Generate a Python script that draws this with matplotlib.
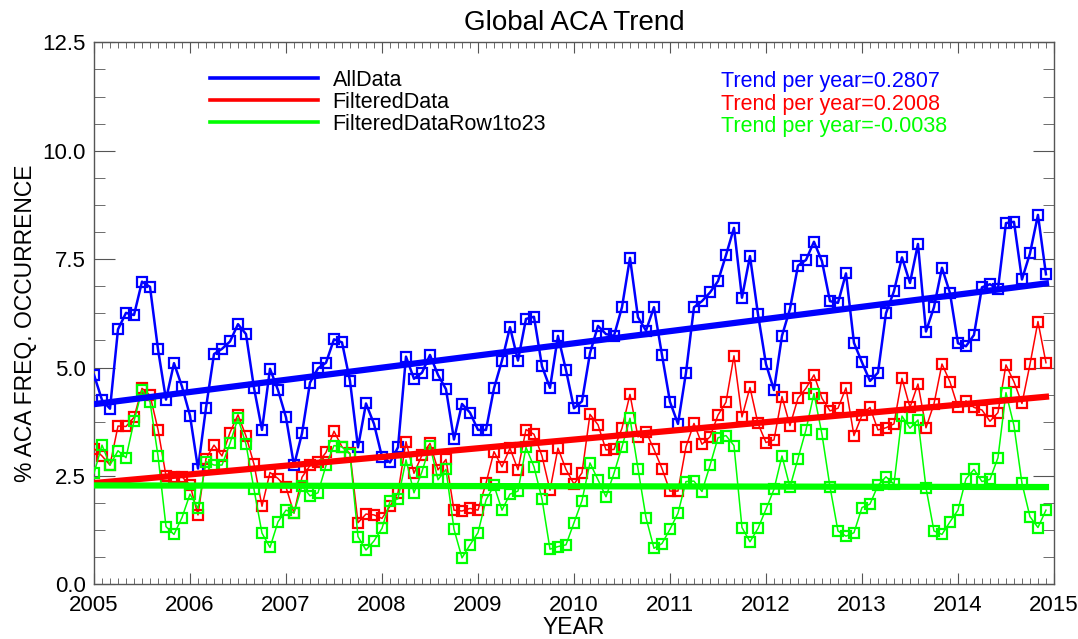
import numpy as np
import matplotlib
matplotlib.use('Agg')
import matplotlib.pyplot as plt
from matplotlib.ticker import MultipleLocator, FormatStrFormatter

plt.rcParams['font.family'] = ['Liberation Sans', 'DejaVu Sans']

# Monthly values, Jan 2005 .. Dec 2014
all_data = [
    4.83, 4.25, 4.05, 5.88, 6.26, 6.21, 6.98, 6.86, 5.42, 4.26, 5.10, 4.56,
    3.89, 2.67, 4.07, 5.31, 5.43, 5.60, 6.00, 5.77, 4.53, 3.56, 4.97, 4.48,
    3.85, 2.74, 3.48, 4.65, 4.98, 5.11, 5.65, 5.58, 4.69, 3.16, 4.17, 3.70,
    2.94, 2.81, 3.16, 5.25, 4.74, 4.88, 5.29, 4.83, 4.50, 3.34, 4.16, 3.96,
    3.56, 3.56, 4.52, 5.16, 5.93, 5.16, 6.12, 6.17, 5.03, 4.53, 5.73, 4.94,
    4.06, 4.22, 5.33, 5.96, 5.77, 5.73, 6.39, 7.53, 6.16, 5.85, 6.39, 5.29,
    4.21, 3.70, 4.88, 6.39, 6.53, 6.73, 6.99, 7.59, 8.22, 6.61, 7.57, 6.23,
    5.08, 4.48, 5.73, 6.35, 7.35, 7.48, 7.90, 7.45, 6.53, 6.49, 7.17, 5.57,
    5.12, 4.69, 4.88, 6.25, 6.76, 7.54, 6.95, 7.85, 5.83, 6.39, 7.30, 6.72,
    5.56, 5.49, 5.75, 6.85, 6.92, 6.81, 8.33, 8.36, 7.03, 7.63, 8.52, 7.15,
]
filtered_data = [
    3.13, 2.96, 2.75, 3.65, 3.64, 3.85, 4.52, 4.36, 3.57, 2.50, 2.48, 2.48,
    2.29, 1.60, 2.90, 3.21, 2.96, 3.50, 3.91, 3.42, 2.77, 1.80, 2.58, 2.44,
    2.24, 1.64, 2.47, 2.74, 2.81, 3.04, 3.53, 3.17, 3.02, 1.42, 1.62, 1.60,
    1.52, 1.80, 2.11, 3.29, 2.56, 2.98, 3.25, 2.64, 2.88, 1.71, 1.69, 1.75,
    1.71, 2.33, 3.06, 2.71, 3.14, 2.64, 3.57, 3.46, 2.96, 2.17, 3.14, 2.65,
    2.31, 2.57, 3.92, 3.68, 3.10, 3.11, 3.60, 4.38, 3.40, 3.52, 3.11, 2.67,
    2.15, 2.15, 3.17, 3.71, 3.23, 3.40, 3.90, 4.20, 5.27, 3.86, 4.54, 3.71,
    3.27, 3.33, 4.33, 3.66, 4.29, 4.52, 4.83, 4.29, 4.00, 4.06, 4.53, 3.43,
    3.90, 4.08, 3.56, 3.61, 3.70, 4.75, 4.08, 4.62, 3.61, 4.16, 5.08, 4.67,
    4.08, 4.23, 4.08, 4.02, 3.76, 3.96, 5.06, 4.67, 4.17, 5.07, 6.06, 5.11,
]
filtered_row1to23 = [
    2.56, 3.21, 2.75, 3.08, 2.92, 3.76, 4.48, 4.21, 2.96, 1.33, 1.15, 1.54,
    2.08, 1.75, 2.83, 2.75, 2.75, 3.25, 3.83, 3.23, 2.19, 1.18, 0.85, 1.44,
    1.71, 1.65, 2.27, 2.04, 2.11, 2.74, 3.20, 3.17, 3.00, 1.10, 0.79, 1.00,
    1.29, 1.91, 1.97, 2.87, 2.11, 2.60, 3.20, 2.41, 2.65, 1.27, 0.61, 0.91,
    1.19, 1.94, 2.28, 1.71, 2.08, 2.15, 3.16, 2.71, 1.97, 0.81, 0.87, 0.91,
    1.42, 1.93, 2.80, 2.41, 2.02, 2.56, 3.17, 3.83, 2.67, 1.54, 0.83, 0.94,
    1.27, 1.64, 2.37, 2.38, 2.14, 2.74, 3.38, 3.43, 3.20, 1.31, 0.98, 1.29,
    1.73, 2.19, 2.96, 2.24, 2.90, 3.56, 4.40, 3.46, 2.25, 1.23, 1.11, 1.19,
    1.77, 1.85, 2.28, 2.48, 2.31, 3.88, 3.60, 3.79, 2.23, 1.23, 1.15, 1.44,
    1.71, 2.43, 2.65, 2.37, 2.42, 2.92, 4.42, 3.66, 2.33, 1.56, 1.31, 1.71,
]
series_names = ['AllData', 'FilteredData', 'FilteredDataRow1to23']
trend_slopes = [0.2807, 0.2008, -0.0038]
colors = ['#0000ff', '#ff0000', '#00ff00']

start_year = 2005
years = start_year + np.arange(len(all_data)) / 12.0

fig = plt.figure(figsize=(10.78, 6.39), dpi=100)
ax = fig.add_axes([0.0872, 0.0856, 0.8905, 0.8482])

line_widths = [1.8, 1.1, 1.1]
for vals, c, lw, slope in zip([all_data, filtered_data, filtered_row1to23],
                              colors, line_widths, trend_slopes):
    vals = np.asarray(vals)
    ax.plot(years, vals, color=c, lw=lw, marker='s', ms=7, mfc='none',
            mec=c, mew=1.6, zorder=3)
    # trend line through the mean with the stated slope
    icpt = vals.mean() - slope * years.mean()
    ax.plot(years, slope * years + icpt, color=c, lw=4.5, zorder=4)

# legend lines (thinner than the trend lines)
handles = [plt.Line2D([], [], color=c, lw=2.6) for c in colors]
ax.legend(handles, series_names, loc='upper left',
          bbox_to_anchor=(0.1208, 0.949), frameon=False, fontsize=15.5,
          handlelength=5.0, handletextpad=0.7, labelspacing=0.04,
          borderpad=0, borderaxespad=0)
for k, (s, c) in enumerate(zip(trend_slopes, colors)):
    ax.text(0.653, 0.9175 - k * 0.0415, 'Trend per year=%.4f' % s, color=c,
            fontsize=15.5, transform=ax.transAxes, va='baseline', ha='left')

ax.set_xlim(2005, 2015)
ax.set_ylim(0, 12.5)
ax.xaxis.set_major_locator(MultipleLocator(1))
ax.xaxis.set_minor_locator(MultipleLocator(1 / 12))
ax.xaxis.set_major_formatter(FormatStrFormatter('%d'))
ax.yaxis.set_major_locator(MultipleLocator(2.5))
ax.yaxis.set_minor_locator(MultipleLocator(0.625))
ax.yaxis.set_major_formatter(FormatStrFormatter('%.1f'))
ax.tick_params(which='both', direction='in', top=True, right=True,
               labelsize=16, color='#555555')
ax.tick_params(axis='x', which='major', length=8, pad=8)
ax.tick_params(axis='x', which='minor', length=4)
ax.tick_params(axis='y', which='major', length=15, pad=6)
ax.tick_params(axis='y', which='minor', length=8)
for s in ax.spines.values():
    s.set_color('#555555')
    s.set_linewidth(1.0)

fig.text(0.5325, 0.0175, 'YEAR', ha='center', va='center', fontsize=16.5)
fig.text(0.0232, 0.494, '% ACA FREQ. OCCURRENCE', ha='center', va='center',
         rotation=90, fontsize=16.5)
fig.text(0.5325, 0.964, 'Global ACA Trend', ha='center', va='center', fontsize=20)

fig.savefig('out.png', dpi=100)
